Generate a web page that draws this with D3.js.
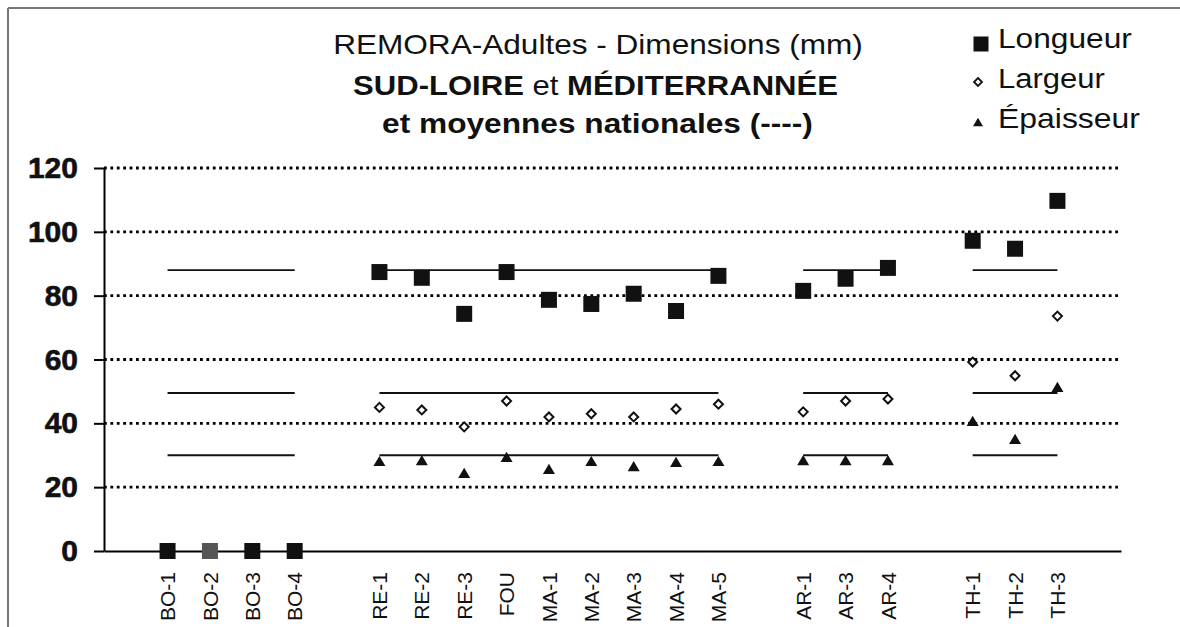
<!DOCTYPE html>
<html><head><meta charset="utf-8">
<script src="https://cdn.jsdelivr.net/npm/d3@7"></script>
<style>
html,body{margin:0;padding:0;background:#fff;}
svg{display:block;font-family:"Liberation Sans",Arial,sans-serif;}
</style></head>
<body><svg id="c" width="1180" height="627"></svg>
<script>
// ---- data ----
const categories = ["", "BO-1","BO-2","BO-3","BO-4", "", "RE-1","RE-2","RE-3","FOU","MA-1","MA-2","MA-3","MA-4","MA-5", "", "AR-1","AR-3","AR-4", "", "TH-1","TH-2","TH-3", ""];
const longueur  = [null, 0,0,0,0, null, 87.4,85.6,74.3,87.4,78.7,77.4,80.6,75.2,86.2, null, 81.5,85.3,88.7, null, 97.2,94.7,109.7, null];
const largeur   = [null, null,null,null,null, null, 45,44.2,38.9,47,42,43,42,44.5,46, null, 43.6,47,47.6, null, 59.2,54.9,73.6, null];
const epaisseur = [null, null,null,null,null, null, 28.2,28.5,24.5,29.5,25.7,28.2,26.6,27.9,28.2, null, 28.5,28.5,28.5, null, 40.8,35.1,51.4, null];
const groupStart = ["BO-1","RE-1","AR-1","TH-1"];
const groupEnd   = ["BO-4","MA-5","AR-4","TH-3"];
const meanLongueur = 88, meanLargeur = 49.5, meanEpaisseur = 30;
const yTicks = [0,20,40,60,80,100,120];
const seriesNames = ["Longueur","Largeur","Épaisseur"];
const titleLines = ["REMORA-Adultes - Dimensions (mm)", "SUD-LOIRE et MÉDITERRANNÉE", "et moyennes nationales (----)"];

(function(){
const FONT = "'Liberation Sans',Arial,sans-serif";
// ---- layout ----
const svg = d3.select("#c");
const pLeft = 104, pRight = 1121, pTop = 168, pBottom = 551;
const x = d3.scaleBand().domain(d3.range(categories.length)).range([pLeft, pRight]).padding(0);
const cx = i => x(i) + x.bandwidth()/2;
const y = d3.scaleLinear().domain([0,120]).range([pBottom, pTop]);

// border
svg.append("line").attr("x1",8).attr("x2",1180).attr("y1",8).attr("y2",8).attr("stroke","#777").attr("stroke-width",2);
svg.append("line").attr("x1",8).attr("x2",8).attr("y1",8).attr("y2",627).attr("stroke","#777").attr("stroke-width",2);

// gridlines
svg.append("g").selectAll("line").data(yTicks.filter(d=>d>0)).join("line")
  .attr("x1",pLeft).attr("x2",pRight).attr("y1",d=>y(d)).attr("y2",d=>y(d))
  .attr("stroke","#000").attr("stroke-width",2.8).attr("stroke-dasharray","2.8,3.6");

// mean lines
const line = d3.line().x(d=>cx(d.i)).y(d=>y(d.v));
const means = [meanLongueur, meanLargeur, meanEpaisseur];
groupStart.forEach((s,k)=>{
  const i0 = categories.indexOf(s), i1 = categories.indexOf(groupEnd[k]);
  means.forEach(m=>{
    svg.append("path").attr("d", line([{i:i0,v:m},{i:i1,v:m}]))
      .attr("fill","none").attr("stroke","#111").attr("stroke-width",1.8);
  });
});

// y axis
const ya = svg.append("g").attr("transform",`translate(${pLeft},0)`)
  .call(d3.axisLeft(y).tickValues(yTicks).tickSize(10).tickSizeOuter(0).tickPadding(16));
ya.attr("font-family",FONT);
ya.select(".domain").attr("stroke","#000").attr("stroke-width",2);
ya.selectAll(".tick line").attr("stroke","#000").attr("stroke-width",2);
ya.selectAll(".tick text").attr("font-size",30).attr("font-weight","bold").attr("fill","#111")
  .attr("font-family",FONT).attr("stroke","#111").attr("stroke-width",0.6);

// x axis
const xa = svg.append("g").attr("transform",`translate(0,${pBottom})`)
  .call(d3.axisBottom(x).tickSize(0).tickSizeOuter(0).tickFormat(i=>categories[i]));
xa.attr("font-family",FONT);
xa.select(".domain").attr("stroke","#000").attr("stroke-width",2);
xa.selectAll(".tick").filter(i=>categories[i]==="").remove();
xa.selectAll(".tick text").attr("font-size",21).attr("fill","#111")
  .attr("font-family",FONT)
  .attr("text-anchor","end").attr("transform","rotate(-90)")
  .attr("x",-21).attr("y",0).attr("dy","0.36em");

// symbol types
const sqType = {draw(ctx,size){const h=Math.sqrt(size)/2;ctx.moveTo(-h,-h);ctx.lineTo(h,-h);ctx.lineTo(h,h);ctx.lineTo(-h,h);ctx.closePath();}};
const diaType = {draw(ctx,size){const r=Math.sqrt(size)/2;ctx.moveTo(0,-r);ctx.lineTo(r,0);ctx.lineTo(0,r);ctx.lineTo(-r,0);ctx.closePath();}};
const triType = {draw(ctx,size){const w=Math.sqrt(size);const h=w*0.85;ctx.moveTo(0,-h/2);ctx.lineTo(w/2,h/2);ctx.lineTo(-w/2,h/2);ctx.closePath();}};

const pts = arr => arr.map((v,i)=>({i,v})).filter(d=>d.v!==null);

svg.append("g").selectAll("path").data(pts(longueur)).join("path")
  .attr("d", d3.symbol(sqType,256))
  .attr("transform",d=>`translate(${cx(d.i)},${y(d.v)})`)
  .attr("fill",d=>categories[d.i]==="BO-2"?"#555":"#111");
svg.append("g").selectAll("path").data(pts(largeur)).join("path")
  .attr("d", d3.symbol(diaType,81))
  .attr("transform",d=>`translate(${cx(d.i)},${y(d.v)})`)
  .attr("fill","#fff").attr("stroke","#111").attr("stroke-width",2);
svg.append("g").selectAll("path").data(pts(epaisseur)).join("path")
  .attr("d", d3.symbol(triType,144))
  .attr("transform",d=>`translate(${cx(d.i)},${y(d.v)})`)
  .attr("fill","#111");

// helper: horizontally fit text
function fit(sel, w){
  const cur = sel.node().getComputedTextLength();
  sel.attr("transform", `scale(${w/cur},1)`);
}

// title
const tcfg = [{x:598,y:54,w:530},{x:595.5,y:95,w:485},{x:597.5,y:133,w:431}];
const t1 = svg.append("g").attr("transform",`translate(${tcfg[0].x},${tcfg[0].y})`)
  .append("text").attr("text-anchor","middle").attr("font-family",FONT).attr("font-size",28).attr("fill","#111").text(titleLines[0]);
fit(t1, tcfg[0].w);
const t2 = svg.append("g").attr("transform",`translate(${tcfg[1].x},${tcfg[1].y})`)
  .append("text").attr("text-anchor","middle").attr("font-family",FONT).attr("font-size",28).attr("fill","#111");
t2.append("tspan").attr("font-weight","bold").text("SUD-LOIRE");
t2.append("tspan").text(" et ");
t2.append("tspan").attr("font-weight","bold").text("MÉDITERRANNÉE");
fit(t2, tcfg[1].w);
const t3 = svg.append("g").attr("transform",`translate(${tcfg[2].x},${tcfg[2].y})`)
  .append("text").attr("text-anchor","middle").attr("font-family",FONT).attr("font-size",28).attr("font-weight","bold").attr("fill","#111").text(titleLines[2]);
fit(t3, tcfg[2].w);

// legend
const legW = [134,107,142];
const legY = [48,88,128];
const legSym = [d3.symbol(sqType,225)(), d3.symbol(diaType,64)(), d3.symbol(triType,100)()];
seriesNames.forEach((nm,k)=>{
  const p = svg.append("path").attr("d",legSym[k])
    .attr("transform",`translate(${k===0?981:978},${legY[k]-(k===0?4:6)})`);
  if(k===1) p.attr("fill","#fff").attr("stroke","#111").attr("stroke-width",1.8);
  else p.attr("fill","#111");
  const t = svg.append("g").attr("transform",`translate(998,${legY[k]})`)
    .append("text").attr("font-family",FONT).attr("font-size",28).attr("fill","#111").text(nm);
  fit(t, legW[k]);
});
})();
</script></body></html>
